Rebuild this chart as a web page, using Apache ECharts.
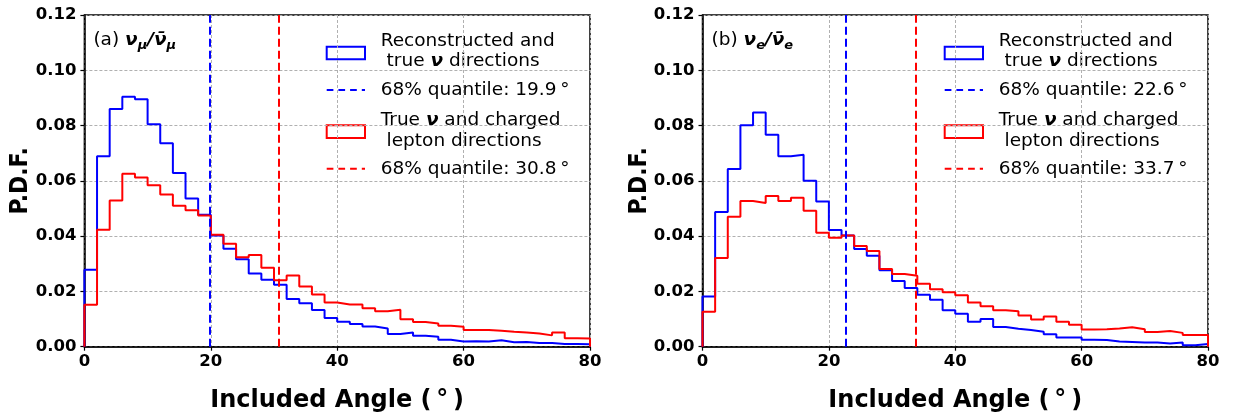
<!DOCTYPE html>
<html>
<head>
<meta charset="utf-8">
<script src="https://cdn.jsdelivr.net/npm/echarts@6/dist/echarts.min.js"></script>
<style>
  html, body { margin: 0; padding: 0; background: #ffffff; }
  #chart { width: 1234px; height: 415px; }
</style>
</head>
<body>
<div id="chart"></div>
<script>
// Histogram bin edges in degrees (2-degree bins)
const angleEdges = [0, 2, 4, 6, 8, 10, 12, 14, 16, 18, 20, 22, 24, 26, 28, 30, 32, 34, 36, 38, 40,
                    42, 44, 46, 48, 50, 52, 54, 56, 58, 60, 62, 64, 66, 68, 70, 72, 74, 76, 78, 80];

// (a) nu_mu sample: reconstructed vs true neutrino direction
const numuReco = [0.0278, 0.0689, 0.0860, 0.0904, 0.0895, 0.0805, 0.0736, 0.0628, 0.0536, 0.0477,
                  0.0402, 0.0354, 0.0316, 0.0265, 0.0242, 0.0224, 0.0173, 0.0157, 0.0133, 0.0104,
                  0.0090, 0.0082, 0.0073, 0.0066, 0.0046, 0.0051, 0.0040, 0.0036, 0.0025, 0.0019,
                  0.0020, 0.0019, 0.0023, 0.0016, 0.0017, 0.0013, 0.0013, 0.0010, 0.0010, 0.0009];
// (a) nu_mu sample: true neutrino vs charged lepton direction
const numuLepton = [0.0152, 0.0423, 0.0529, 0.0626, 0.0612, 0.0584, 0.0551, 0.0510, 0.0494, 0.0475,
                    0.0405, 0.0372, 0.0324, 0.0332, 0.0286, 0.0240, 0.0258, 0.0218, 0.0189, 0.0160,
                    0.0153, 0.0153, 0.0139, 0.0128, 0.0134, 0.0099, 0.0089, 0.0084, 0.0076, 0.0072,
                    0.0060, 0.0060, 0.0058, 0.0054, 0.0051, 0.0048, 0.0041, 0.0051, 0.0031, 0.0030];
// 68% quantiles [reco, lepton]
const numuQuantiles = [19.9, 30.8];

// (b) nu_e sample
const nueReco = [0.0182, 0.0487, 0.0643, 0.0801, 0.0847, 0.0767, 0.0689, 0.0694, 0.0600, 0.0525,
                 0.0422, 0.0402, 0.0353, 0.0329, 0.0277, 0.0238, 0.0212, 0.0188, 0.0170, 0.0132,
                 0.0119, 0.0090, 0.0100, 0.0071, 0.0065, 0.0060, 0.0054, 0.0045, 0.0033, 0.0033,
                 0.0025, 0.0024, 0.0019, 0.0017, 0.0015, 0.0015, 0.0012, 0.0015, 0.0005, 0.0010];
const nueLepton = [0.0126, 0.0321, 0.0470, 0.0527, 0.0520, 0.0545, 0.0527, 0.0539, 0.0492, 0.0412,
                   0.0394, 0.0402, 0.0364, 0.0346, 0.0281, 0.0263, 0.0257, 0.0228, 0.0208, 0.0197,
                   0.0186, 0.0160, 0.0146, 0.0132, 0.0128, 0.0113, 0.0098, 0.0109, 0.0090, 0.0079,
                   0.0062, 0.0063, 0.0066, 0.0070, 0.0063, 0.0053, 0.0057, 0.0050, 0.0042, 0.0042];
const nueQuantiles = [22.6, 33.7];

// Axis ranges and tick spacing
const xRange = [0, 80], xStep = 20;
const yRange = [0, 0.12], yStep = 0.02;

const FONT = 'DejaVu Sans';
const BLUE = '#0000ff', RED = '#ff0000';

// Outline of a step histogram: up the left edge, across each bin, down the right edge
function stepOutline(edges, vals) {
  const pts = [[edges[0], 0]];
  vals.forEach((v, i) => { pts.push([edges[i], v], [edges[i + 1], v]); });
  pts.push([edges[edges.length - 1], 0]);
  return pts;
}

const panels = [
  { tag: '(a) ', flavour: 'μ', reco: numuReco, lepton: numuLepton, q: numuQuantiles,
    left: 84.4, right: 590, yTitleX: 20.7 },
  { tag: '(b) ', flavour: 'e', reco: nueReco, lepton: nueLepton, q: nueQuantiles,
    left: 702.5, right: 1208, yTitleX: 639 }
];
const TOP = 15, HEIGHT = 331.7;

const grid = [], xAxis = [], yAxis = [], series = [], graphic = [];

panels.forEach((p, k) => {
  grid.push({ left: p.left, top: TOP, width: p.right - p.left, height: HEIGHT,
              show: true, borderColor: '#000', borderWidth: 1.5, backgroundColor: 'transparent' });

  const axisCommon = {
    gridIndex: k, type: 'value',
    axisLine: { show: true, onZero: false, lineStyle: { color: '#000', width: 1.5 } },
    axisTick: { show: true, length: 4, lineStyle: { color: '#000', width: 1.2 } },
    splitLine: { show: true, lineStyle: { color: '#b0b0b0', type: [3, 2], width: 1 } }
  };
  xAxis.push(Object.assign({}, axisCommon, {
    min: xRange[0], max: xRange[1], interval: xStep,
    axisLabel: { color: '#000', fontFamily: FONT, fontWeight: 'bold', fontSize: 16.5, margin: 7,
                 showMinLabel: true, showMaxLabel: true }
  }));
  yAxis.push(Object.assign({}, axisCommon, {
    min: yRange[0], max: yRange[1], interval: yStep,
    axisLabel: { color: '#000', fontFamily: FONT, fontWeight: 'bold', fontSize: 16.5, margin: 8,
                 showMinLabel: true, showMaxLabel: true, formatter: v => v.toFixed(2) }
  }));

  const hist = (vals, color, q) => ({
    type: 'line', xAxisIndex: k, yAxisIndex: k,
    data: stepOutline(angleEdges, vals),
    showSymbol: false, symbol: 'none', animation: false, z: 3,
    lineStyle: { color: color, width: 2 },
    markLine: {
      silent: true, symbol: 'none', animation: false,
      label: { show: false },
      lineStyle: { color: color, type: [8, 4], width: 2 },
      data: [{ xAxis: q }]
    }
  });
  series.push(hist(p.reco, BLUE, p.q[0]));
  series.push(hist(p.lepton, RED, p.q[1]));

  const cx = (p.left + p.right) / 2;
  // x-axis title
  graphic.push({ type: 'text', x: cx, y: 401, silent: true,
    style: { text: 'Included Angle (\u2009°\u2009)', fontFamily: FONT, fontWeight: 'bold', fontSize: 24,
             fill: '#000', align: 'center', verticalAlign: 'middle' } });
  // y-axis title
  graphic.push({ type: 'text', x: p.yTitleX, y: TOP + HEIGHT / 2, rotation: Math.PI / 2, scaleX: 0.88,
    silent: true,
    style: { text: 'P.D.F.', fontFamily: FONT, fontWeight: 'bold', fontSize: 25,
             fill: '#000', align: 'center', verticalAlign: 'middle' } });

  // Panel tag with neutrino flavour
  const bi = { fontFamily: FONT, fontWeight: 'bold', fontStyle: 'italic', fontSize: 18.5, lineHeight: 24, fill: '#000' };
  const sub = { fontFamily: FONT, fontWeight: 'bold', fontStyle: 'italic', fontSize: 13, lineHeight: 13,
                verticalAlign: 'bottom', fill: '#000' };
  graphic.push({ type: 'text', x: p.left + 9, y: 40, silent: true,
    style: {
      text: '{n|' + p.tag + '}{b|ν}{s|' + p.flavour + '}{b|/ν\u0304}{s|' + p.flavour + '}',
      align: 'left', verticalAlign: 'middle',
      rich: {
        n: { fontFamily: FONT, fontSize: 18.5, lineHeight: 24, fill: '#000' },
        b: bi, s: sub
      }
    } });

  // Legend
  const ix = p.right - 263.3, tx = p.right - 209.3, iw = 38.3;
  const rich = {
    n: { fontFamily: FONT, fontSize: 18.5, fill: '#000' },
    b: { fontFamily: FONT, fontSize: 18.5, fontWeight: 'bold', fontStyle: 'italic', fill: '#000' }
  };
  const legText = (s, y) => ({ type: 'text', x: tx, y: y, silent: true,
    style: { text: s, align: 'left', verticalAlign: 'middle', rich: rich } });
  graphic.push({ type: 'rect', silent: true, shape: { x: ix, y: 46.7, width: iw, height: 12.6 },
                 style: { fill: 'none', stroke: BLUE, lineWidth: 2 } });
  graphic.push(legText('{n|Reconstructed and}', 41));
  graphic.push(legText('{n| true }{b|ν}{n| directions}', 61));
  graphic.push({ type: 'line', silent: true, shape: { x1: ix, y1: 90, x2: ix + iw, y2: 90 },
                 style: { stroke: BLUE, lineWidth: 2, lineDash: [6.7, 5] } });
  graphic.push(legText('{n|68% quantile: ' + p.q[0].toFixed(1) + '\u2009°}', 90.5));
  graphic.push({ type: 'rect', silent: true, shape: { x: ix, y: 125.3, width: iw, height: 12.6 },
                 style: { fill: 'none', stroke: RED, lineWidth: 2 } });
  graphic.push(legText('{n|True }{b|ν}{n| and charged}', 120));
  graphic.push(legText('{n| lepton directions}', 141.5));
  graphic.push({ type: 'line', silent: true, shape: { x1: ix, y1: 168.7, x2: ix + iw, y2: 168.7 },
                 style: { stroke: RED, lineWidth: 2, lineDash: [6.7, 5] } });
  graphic.push(legText('{n|68% quantile: ' + p.q[1].toFixed(1) + '\u2009°}', 169));
});

const chart = echarts.init(document.getElementById('chart'), null, { renderer: 'canvas' });
chart.setOption({
  backgroundColor: '#ffffff',
  animation: false,
  grid: grid, xAxis: xAxis, yAxis: yAxis, series: series, graphic: graphic
});
</script>
</body>
</html>
